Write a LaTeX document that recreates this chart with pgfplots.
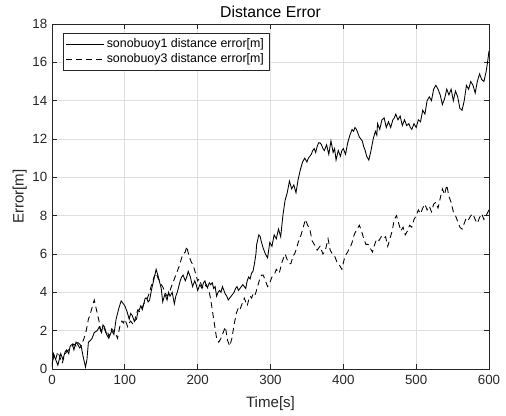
\documentclass[border=0pt]{standalone}
\usepackage{pgfplots}
\pgfplotsset{compat=1.18}
\usepackage{fontspec}
\setmainfont{Liberation Sans}
\definecolor{axc}{RGB}{38,38,38}
\definecolor{gridc}{RGB}{223,223,223}
\begin{document}
\begin{tikzpicture}[x=0.75pt,y=0.75pt]
\begin{axis}[
  scale only axis,
  width=327.75pt, height=258.75pt,
  xmin=0, xmax=600, ymin=0, ymax=18,
  xtick={0,100,...,600}, ytick={0,2,...,18},
  grid=major,
  major grid style={gridc, line width=0.5pt},
  axis line style={axc, line width=0.5pt},
  tick style={axc, line width=0.5pt},
  tick align=inside,
  major tick length=4pt,
  ticklabel style={font=\fontsize{10}{11}\selectfont, text=axc},
  xticklabel style={yshift=-1pt},
  /pgf/number format/assume math mode=true,
  title={Distance Error},
  title style={font=\fontsize{11.8}{13}\selectfont, yshift=-5pt},
  xlabel={Time[s]},
  ylabel={Error[m]},
  label style={font=\fontsize{11.3}{12}\selectfont, text=axc},
  xlabel style={yshift=-2.5pt},
  ylabel style={yshift=-2.5pt},
  legend style={at={(0.025,0.974)}, anchor=north west, draw=axc, line width=0.5pt,
    font=\fontsize{9.3}{11}\selectfont, row sep=-1pt, inner sep=2pt},
  legend cell align=left,
  legend image code/.code={\draw[#1] (0pt,0pt) -- (28pt,0pt);},
]
\addplot[black, line width=0.65pt] coordinates {
(0,0.3)(3,0.7)(6,0.4)(8,0.2)(12,0.8)(15,0.5)(18,0.9)(20,1.0)(23,0.8)(25,1.2)(28,1.3)(30,1.0)(33,1.4)(35,1.3)(38,1.1)(40,1.2)(43,0.6)(46,0.1)(48,0.5)(50,1.4)(53,1.5)(55,1.6)(58,1.9)(62,2.0)(65,2.2)(68,1.9)(70,2.3)(72,2.2)(75,1.8)(78,1.6)(80,1.8)(82,2.0)(85,1.8)(88,2.6)(90,2.9)(92,3.2)(95,3.55)(98,3.4)(100,3.3)(103,3.0)(106,2.6)(108,2.9)(110,2.8)(113,2.5)(116,2.6)(118,3.0)(120,3.1)(122,3.3)(124,3.1)(126,3.4)(128,3.7)(130,3.7)(132,3.5)(134,3.6)(137,4.2)(140,4.7)(143,5.2)(146,4.8)(148,4.5)(150,4.2)(152,3.5)(155,3.9)(157,3.7)(158,3.6)(160,4.0)(162,3.8)(165,4.0)(168,3.4)(170,3.8)(172,4.0)(176,4.6)(178,4.8)(180,4.9)(183,4.6)(185,4.8)(187,5.1)(190,4.8)(193,4.3)(196,4.6)(198,4.4)(200,4.1)(203,4.4)(206,4.2)(208,4.5)(210,4.6)(212,4.3)(214,4.3)(216,4.5)(218,4.4)(220,4.5)(222,4.2)(224,4.3)(226,3.8)(228,4.0)(230,4.1)(232,4.0)(234,4.3)(236,4.1)(238,3.9)(240,3.8)(242,3.6)(244,3.7)(246,3.8)(248,3.9)(250,4.0)(252,4.2)(254,4.3)(256,4.1)(258,4.2)(260,4.3)(262,4.4)(264,4.3)(266,4.2)(268,4.6)(270,4.8)(272,4.7)(274,5.0)(276,5.1)(278,5.5)(280,6.0)(281,6.5)(284,7.0)(286,6.9)(287,6.7)(290,6.3)(292,6.1)(293,6.0)(296,5.8)(299,6.6)(302,6.4)(305,7.0)(308,6.8)(311,7.3)(314,6.9)(317,8.0)(320,8.8)(323,9.2)(326,9.8)(329,9.4)(332,9.6)(335,9.2)(338,9.9)(341,10.4)(344,10.8)(347,11.0)(350,10.8)(352,11.0)(354,11.1)(356,11.2)(358,11.4)(360,11.5)(362,11.3)(364,11.6)(366,11.8)(368,11.8)(370,11.7)(372,11.5)(374,11.4)(377,11.7)(380,11.2)(383,11.9)(386,11.3)(388,11.5)(390,10.9)(393,11.4)(396,11.1)(398,11.4)(400,11.5)(403,11.2)(406,11.8)(409,12.2)(412,12.5)(414,12.4)(416,12.6)(418,12.5)(420,12.3)(422,12.1)(424,12.0)(426,11.9)(428,11.6)(430,11.4)(432,11.1)(435,10.9)(438,11.4)(441,12.0)(444,12.4)(446,12.2)(447,12.8)(450,12.5)(453,13.0)(456,13.1)(459,12.6)(462,12.9)(465,12.6)(468,13.0)(470,13.1)(472,13.3)(475,13.0)(478,13.2)(481,12.7)(484,13.0)(487,12.7)(490,12.8)(492,12.6)(494,12.5)(497,12.8)(500,12.6)(503,13.0)(506,12.9)(509,13.5)(512,13.3)(515,14.0)(518,14.2)(521,14.0)(524,14.6)(527,14.8)(530,14.6)(533,14.3)(536,13.8)(539,14.1)(542,14.6)(545,14.3)(548,14.6)(551,14.0)(554,14.5)(557,14.2)(560,13.6)(563,13.5)(566,14.0)(569,14.8)(572,14.6)(575,15.0)(578,14.8)(581,14.4)(584,15.0)(587,15.4)(590,15.1)(593,15.0)(596,15.5)(598,16.0)(600,16.6)
};
\addlegendentry{sonobuoy1 distance error[m]}
\addplot[black, line width=0.65pt, dash pattern=on 4.5pt off 3pt] coordinates {
(0,0.1)(2,0.8)(5,0.5)(8,0.9)(11,0.6)(14,0.3)(17,0.7)(20,0.9)(23,1.0)(25,1.1)(28,1.2)(30,1.3)(33,1.2)(35,1.4)(38,1.3)(40,1.2)(42,1.4)(44,1.6)(47,2.0)(50,2.6)(52,2.8)(55,3.2)(58,3.6)(61,3.1)(64,2.6)(67,2.0)(70,2.2)(72,2.1)(74,1.9)(76,2.0)(78,1.7)(80,1.9)(82,2.1)(84,2.0)(86,1.9)(88,1.8)(90,1.6)(93,2.2)(96,2.5)(98,2.4)(100,2.6)(102,2.4)(104,2.2)(106,2.4)(108,2.5)(110,2.4)(112,2.3)(114,2.6)(116,2.9)(118,3.1)(120,3.0)(122,3.1)(124,3.2)(126,3.4)(128,3.5)(130,3.6)(132,3.8)(134,4.0)(136,4.3)(138,4.5)(140,4.8)(143,5.0)(146,4.7)(148,4.6)(150,4.4)(152,4.3)(155,4.0)(158,3.8)(160,3.9)(163,4.2)(165,4.4)(168,4.7)(170,4.9)(173,5.2)(175,5.4)(178,5.8)(180,6.0)(183,6.1)(185,6.4)(188,5.9)(191,5.6)(194,5.4)(197,5.0)(200,4.6)(202,4.7)(204,4.5)(206,4.3)(208,4.2)(210,4.3)(212,4.4)(214,4.2)(216,4.0)(218,3.6)(220,3.1)(222,2.6)(224,2.1)(226,1.6)(229,1.4)(232,1.6)(235,1.9)(238,2.2)(241,1.5)(244,1.2)(247,1.6)(250,2.3)(253,2.9)(256,3.2)(258,3.1)(260,3.3)(262,3.5)(264,3.7)(266,3.5)(268,3.3)(270,3.6)(272,3.8)(274,3.7)(276,3.9)(278,3.8)(280,4.0)(283,4.4)(286,4.8)(288,4.9)(290,4.9)(293,4.6)(296,4.3)(298,4.4)(300,4.6)(302,4.8)(304,4.9)(306,5.0)(308,5.2)(310,5.1)(312,5.0)(314,5.3)(316,5.6)(318,5.8)(320,6.0)(322,5.8)(324,5.6)(326,5.5)(328,5.5)(331,5.9)(333,6.0)(335,6.2)(338,6.6)(340,6.8)(342,7.0)(345,7.4)(348,7.8)(351,7.5)(354,7.3)(357,6.7)(360,6.5)(362,6.4)(364,6.2)(366,6.3)(368,6.4)(370,6.2)(372,6.0)(374,6.1)(376,6.3)(379,6.8)(382,6.2)(385,6.0)(388,5.9)(391,5.6)(393,5.5)(395,5.4)(398,5.2)(401,5.7)(404,6.0)(406,6.1)(408,6.3)(410,6.4)(412,6.6)(414,6.9)(416,7.1)(419,7.3)(422,7.5)(425,7.2)(428,6.8)(431,6.5)(434,6.5)(437,6.3)(440,6.1)(443,6.5)(446,6.8)(449,6.7)(452,6.9)(455,6.8)(458,6.9)(461,6.4)(464,6.8)(467,7.2)(470,7.8)(473,8.0)(476,7.6)(479,7.2)(482,7.4)(485,7.0)(488,7.2)(491,7.5)(494,7.4)(497,7.8)(500,8.0)(503,8.3)(506,8.1)(509,8.4)(512,8.6)(515,8.3)(518,8.5)(521,8.2)(524,8.6)(527,8.7)(530,8.4)(533,8.9)(536,9.4)(539,9.1)(542,9.6)(545,9.0)(548,8.7)(551,8.2)(554,8.0)(557,7.7)(560,7.4)(563,7.3)(566,7.6)(569,7.9)(572,7.8)(575,8.0)(578,8.1)(581,7.8)(584,7.6)(587,7.9)(590,8.1)(593,7.8)(596,8.0)(600,8.3)
};
\addlegendentry{sonobuoy3 distance error[m]}
\end{axis}
\useasboundingbox ([xshift=-39pt,yshift=-33pt]current axis.south west) rectangle ([xshift=12.75pt,yshift=18pt]current axis.north east);
\end{tikzpicture}
\end{document}
